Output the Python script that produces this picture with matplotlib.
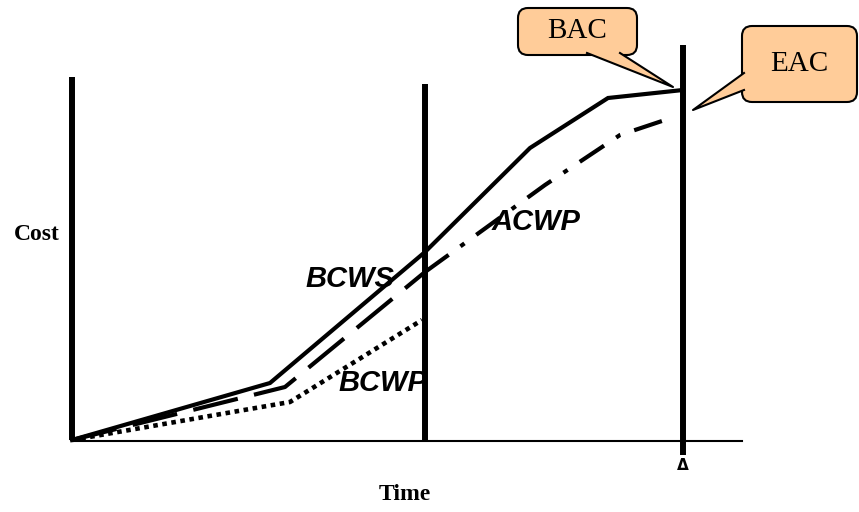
import matplotlib
matplotlib.use('Agg')
from matplotlib import pyplot as plt
from matplotlib.patches import FancyBboxPatch, Polygon

# Earned value curves (time units across, cost units up; origin at project start)
bcws_time = [0, 198, 353, 458, 536, 611]
bcws_cost = [0, 57, 188, 292, 342, 350]

acwp_time = [0, 213, 353]
acwp_cost = [0, 53, 168]
acwp_fc_time = [353, 473, 548, 593]
acwp_fc_cost = [168, 255, 305, 320]

bcwp_time = [0, 218, 350]
bcwp_cost = [0, 38, 120]

status_date = 353
completion = 611

curve_labels = ['BCWS', 'BCWP', 'ACWP']
peach = '#FFCC99'

fig = plt.figure(figsize=(8.59, 5.12), dpi=100)
ax = fig.add_axes([0, 0, 1, 1])
ax.set_xlim(-72, 787)
ax.set_ylim(-72, 440)
ax.axis('off')

# axes and the two vertical date lines
ax.plot([0, 0], [0, 363], color='black', lw=4.3, solid_capstyle='butt')
ax.plot([0, 670], [-1, -1], color='black', lw=1.5)
ax.plot([status_date, status_date], [-2, 356], color='black', lw=4.3, solid_capstyle='butt')
ax.plot([completion, completion], [-15, 395], color='black', lw=4.3, solid_capstyle='butt')
ax.text(completion, -26, '\u0394', ha='center', va='center', fontsize=11,
        fontweight='bold', family='DejaVu Sans')

# curves
ax.plot(bcws_time, bcws_cost, color='black', lw=3, solid_joinstyle='miter')
ax.plot(acwp_time, acwp_cost, color='black', lw=3, dashes=(11, 4), dash_capstyle='butt')
ax.plot(acwp_fc_time, acwp_fc_cost, color='black', lw=3,
        dashes=(7, 3.5, 1.2, 3.5), dash_capstyle='butt')
ax.plot(bcwp_time, bcwp_cost, color='black', lw=3.3, dashes=(1, 1), dash_capstyle='butt')

# curve labels
lab_font = dict(family=['Liberation Sans', 'DejaVu Sans'], fontsize=21,
                fontweight='bold', fontstyle='italic', ha='center', va='center')
ax.text(278, 161, curve_labels[0], **lab_font)
ax.text(311, 57, curve_labels[1], **lab_font)
ax.text(464, 218, curve_labels[2], **lab_font)

# axis titles
ttl_font = dict(family=['Liberation Serif', 'DejaVu Serif'], fontsize=17,
                fontweight='bold', ha='center', va='center')
ax.text(-35, 205, 'Cost', **ttl_font)
ax.text(333, -54, 'Time', **ttl_font)


def callout(x0, y0, x1, y1, base_a, base_b, tip, text):
    box = FancyBboxPatch((x0, y0), x1 - x0, y1 - y0,
                         boxstyle='round,pad=0,rounding_size=10',
                         facecolor=peach, edgecolor='black', lw=1.5, zorder=3)
    ax.add_patch(box)
    ax.add_patch(Polygon([base_a, tip, base_b], closed=True, facecolor=peach,
                         edgecolor='none', zorder=4))
    ax.plot([base_a[0], tip[0], base_b[0]], [base_a[1], tip[1], base_b[1]],
            color='black', lw=1.5, zorder=5)
    ax.text((x0 + x1) / 2, (y0 + y1) / 2, text, ha='center', va='center',
            family=['Liberation Serif', 'DejaVu Serif'], fontsize=21, zorder=6)


callout(446, 385, 565, 432, (515, 387), (548, 387), (601, 353), 'BAC')
callout(670, 338, 785, 414, (672, 367), (672, 350), (621, 330), 'EAC')

fig.savefig('out.png', dpi=100)
